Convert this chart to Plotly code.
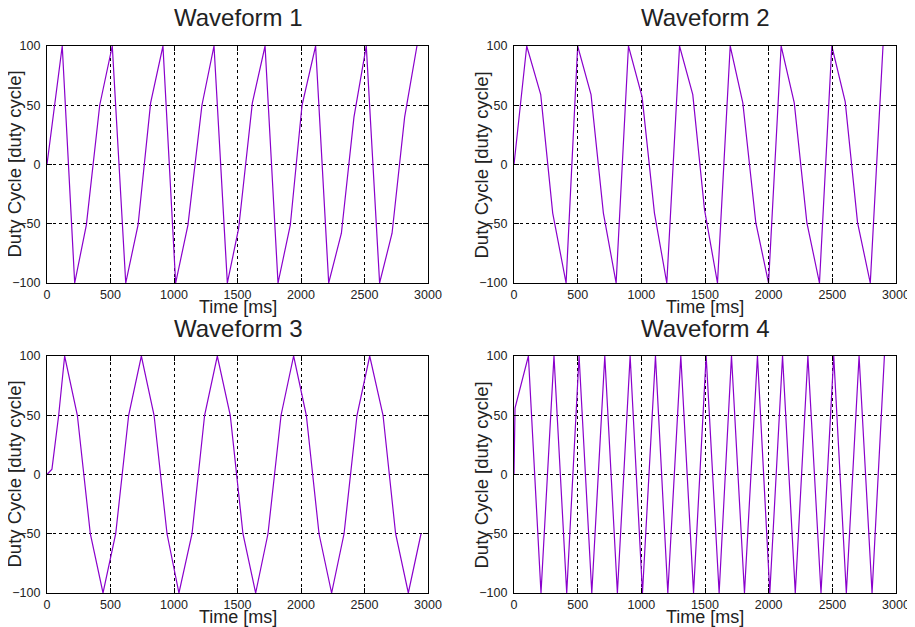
import plotly.graph_objects as go

# Waveform 1
t1 = [0, 120, 218, 310, 415, 514, 620, 717, 816, 913, 1013, 1110, 1220, 1315, 1420,
      1509, 1617, 1717, 1819, 1916, 2008, 2115, 2218, 2318, 2417, 2514, 2619, 2717, 2816, 2913]
v1 = [0, 100, -100, -51, 50, 100, -100, -51, 52, 100, -100, -51, 50, 100, -100,
      -54, 52, 100, -100, -51, 50, 100, -100, -58, 40, 100, -100, -58, 40, 100]

# Waveform 2
t2 = [0, 100, 210, 304, 409, 500, 605, 702, 802, 899, 1006, 1103, 1200, 1300, 1404,
      1496, 1598, 1698, 1797, 1899, 1999, 2098, 2201, 2300, 2399, 2496, 2601, 2698, 2798, 2898]
v2 = [0, 100, 59, -41, -100, 100, 59, -41, -100, 100, 57, -41, -100, 100, 59,
      -38, -100, 100, 52, -49, -100, 100, 52, -49, -100, 100, 53, -49, -100, 100]

# Waveform 3
t3 = [0, 39, 92, 139, 239, 341, 441, 541, 643, 743, 843, 945, 1039, 1142, 1241, 1341,
      1443, 1543, 1643, 1740, 1843, 1942, 2042, 2142, 2241, 2339, 2441, 2541, 2646, 2745, 2845, 2945]
v3 = [0, 4.5, 50, 100, 50, -50, -100, -50, 50, 100, 50, -50, -100, -50, 50, 100,
      50, -50, -100, -50, 50, 100, 50, -50, -100, -50, 50, 100, 50, -50, -100, -50]

# Waveform 4
t4 = [0, 8, 113, 212, 314, 414, 511, 611, 713, 812, 912, 1009, 1111, 1208, 1310, 1410,
      1509, 1611, 1708, 1810, 1912, 2009, 2109, 2209, 2308, 2411, 2511, 2610, 2710, 2812, 2909]
v4 = [0, 56, 100, -100, 100, -100, 100, -100, 100, -100, 100, -100, 100, -100, 100, -100,
      100, -100, 100, -100, 100, -100, 100, -100, 100, -100, 100, -100, 100, -100, 100]

titles = ["Waveform 1", "Waveform 2", "Waveform 3", "Waveform 4"]
x_ticks = [0, 500, 1000, 1500, 2000, 2500, 3000]
y_ticks = [-100, -50, 0, 50, 100]

# page body adds an 8px offset; paper is sized so it ends at the 915x627 window edge
OFF = 8
W, H = 915 - OFF, 627 - OFF
# pixel boxes of plot areas in window coordinates (left, right, top, bottom)
boxes = [(47, 428, 46, 283), (514, 896, 46, 283), (47, 428, 356, 593), (514, 896, 356, 593)]
series = [(t1, v1), (t2, v2), (t3, v3), (t4, v4)]

FONT = "Liberation Sans, Arial, sans-serif"
TXT = "#222222"
fig = go.Figure()
annotations = []
layout = dict(
    width=W, height=H, margin=dict(l=0, r=0, t=0, b=0, pad=0, autoexpand=False),
    paper_bgcolor="white", plot_bgcolor="white", showlegend=False,
    template="none",
    font=dict(family=FONT, color=TXT),
)
for i, (box, (tx, vy), title) in enumerate(zip(boxes, series, titles)):
    l, r, t, b = [v - OFF for v in box]
    n = "" if i == 0 else str(i + 1)
    fig.add_trace(go.Scatter(x=tx, y=vy, mode="lines",
                             line=dict(color="#8A00CC", width=1.2),
                             xaxis="x" + n, yaxis="y" + n, hoverinfo="skip"))
    common = dict(showline=True, linecolor="black", linewidth=1.2, mirror="ticks",
                  ticks="inside", ticklen=5, tickcolor="black", automargin=False,
                  showgrid=True, gridcolor="black", gridwidth=1, griddash="dot",
                  zeroline=False, tickfont=dict(size=12.5, family=FONT, color=TXT))
    layout["xaxis" + n] = dict(common, domain=[l / W, r / W], range=[0, 3000],
                               tickvals=x_ticks, anchor="y" + n, ticklabelstandoff=0)
    layout["yaxis" + n] = dict(common, domain=[1 - b / H, 1 - t / H], range=[-100, 100],
                               tickvals=y_ticks, anchor="x" + n, ticklabelstandoff=3)
    cx = (l + r) / 2
    annotations.append(dict(text=title, x=cx / W, y=1 - (t - 28) / H, xref="paper", yref="paper",
                            showarrow=False, font=dict(size=24, family=FONT, color=TXT),
                            xanchor="center", yanchor="middle"))
    annotations.append(dict(text="Time [ms]", x=cx / W, y=1 - (b + 24) / H, xref="paper", yref="paper",
                            showarrow=False, font=dict(size=18, family=FONT, color=TXT),
                            xanchor="center", yanchor="middle"))
    annotations.append(dict(text="Duty Cycle [duty cycle]", x=(l - 33) / W, y=1 - (t + b) / 2 / H,
                            xref="paper", yref="paper", textangle=-90,
                            showarrow=False, font=dict(size=18.5, family=FONT, color=TXT),
                            xanchor="center", yanchor="middle"))
layout["annotations"] = annotations
fig.update_layout(**layout)
fig.write_html("out.html")
